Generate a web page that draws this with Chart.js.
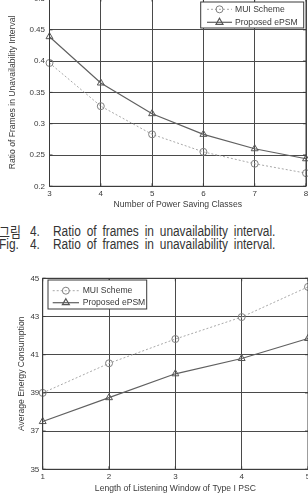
<!DOCTYPE html>
<html><head><meta charset="utf-8">
<script src="https://cdn.jsdelivr.net/npm/chart.js@4.4.1/dist/chart.umd.min.js"></script>
<style>
html,body{margin:0;padding:0;width:308px;height:500px;overflow:hidden;background:#fff;position:relative}
.c{position:absolute;left:0}
#w1{top:-12px;width:320px;height:222px}
#w2{top:262px;width:330px;height:238px}
.cap{position:absolute;left:0;width:308px;height:16px;line-height:16px;font-size:14px;font-family:"Liberation Sans","Noto Sans CJK KR",sans-serif;color:#333;white-space:nowrap}
.cap span{position:absolute;top:0;transform-origin:0 50%;transform:scaleX(0.85)}
.cap .t{word-spacing:3px}
</style></head><body>
<div class="c" id="w1"><canvas id="c1"></canvas></div>
<div class="c" id="w2"><canvas id="c2"></canvas></div>
<div class="cap" style="top:223px"><span style="left:-1px;font-family:'Noto Sans CJK KR'">그림</span><span style="left:30px">4.</span><span class="t" style="left:53px">Ratio of frames in unavailability interval.</span></div>
<div class="cap" style="top:236px"><span style="left:-1px">Fig.</span><span style="left:30px">4.</span><span class="t" style="left:53px">Ratio of frames in unavailability interval.</span></div>
<script>
// ---- data ----
const psClasses = [3, 4, 5, 6, 7, 8];
const muiRatio  = [0.397, 0.328, 0.283, 0.255, 0.236, 0.221];
const epsmRatio = [0.439, 0.365, 0.316, 0.283, 0.260, 0.244];
const ratioTicks = [0.2, 0.25, 0.3, 0.35, 0.4, 0.45, 0.5];
const classTicks = [3, 4, 5, 6, 7, 8];

const windowLen  = [1, 2, 3, 4, 5];
const muiEnergy  = [39.0, 40.55, 41.82, 42.97, 44.55];
const epsmEnergy = [37.5, 38.75, 40.0, 40.8, 41.85];
const energyTicks = [35, 37, 39, 41, 43, 45];
const windowTicks = [1, 2, 3, 4, 5];

const seriesNames = ['MUI Scheme', 'Proposed ePSM'];

const FONT = '"Liberation Sans", Arial, sans-serif';
const TXT = '#3a3a3a';
const FRAME = '#3a3a3a';

function pts(xs, ys){ return xs.map((x,i)=>({x:x, y:ys[i]})); }

const framePlugin = {
  id: 'frame',
  afterDatasetsDraw(chart){
    const {ctx, chartArea:a, scales} = chart;
    ctx.save();
    ctx.strokeStyle = FRAME; ctx.lineWidth = 1; ctx.setLineDash([]);
    ctx.beginPath();
    scales.x.ticks.forEach((t,i)=>{
      const px = scales.x.getPixelForValue(t.value);
      ctx.moveTo(px, a.bottom); ctx.lineTo(px, a.bottom-3);
      ctx.moveTo(px, a.top); ctx.lineTo(px, a.top+3);
    });
    scales.y.ticks.forEach((t,i)=>{
      const py = scales.y.getPixelForValue(t.value);
      ctx.moveTo(a.left, py); ctx.lineTo(a.left+3, py);
      ctx.moveTo(a.right, py); ctx.lineTo(a.right-3, py);
    });
    ctx.stroke();
    ctx.strokeRect(a.left, a.top, a.right-a.left, a.bottom-a.top);
    ctx.restore();
  }
};

const boxLegend = {
  id: 'boxLegend',
  afterDraw(chart, args, o){
    const {ctx, chartArea:a} = chart;
    const x = a.left + o.dx, y = a.top + o.dy;
    ctx.save();
    ctx.fillStyle = '#fff'; ctx.fillRect(x, y, o.w, o.h);
    ctx.strokeStyle = FRAME; ctx.lineWidth = 1; ctx.strokeRect(x, y, o.w, o.h);
    chart.data.datasets.forEach((ds,i)=>{
      const cy = y + o.rows[i];
      ctx.strokeStyle = ds.borderColor; ctx.lineWidth = ds.borderWidth;
      ctx.setLineDash(ds.borderDash || []);
      ctx.beginPath(); ctx.moveTo(x+o.l0, cy); ctx.lineTo(x+o.l1, cy); ctx.stroke();
      ctx.setLineDash([]);
      ctx.strokeStyle = ds.pointBorderColor; ctx.fillStyle = 'rgba(0,0,0,0)';
      Chart.helpers.drawPoint(ctx, {pointStyle: ds.pointStyle, radius: ds.pointRadius, borderWidth: 1, rotation: 0}, x+(o.l0+o.l1)/2, cy);
      ctx.fillStyle = TXT; ctx.font = '8.6px ' + FONT; ctx.textBaseline = 'middle'; ctx.textAlign = 'left';
      ctx.fillText(ds.label, x+o.tx, cy);
    });
    ctx.restore();
  }
};

function makeDatasets(xs, a, b){
  return [
    { label: seriesNames[0], data: pts(xs, a), borderColor: '#a8a8a8', borderWidth: 1, borderDash: [2,2],
      pointStyle: 'circle', pointRadius: 3.5, pointBorderColor: '#808080', pointBackgroundColor: 'rgba(0,0,0,0)', pointBorderWidth: 1, clip: false, tension: 0 },
    { label: seriesNames[1], data: pts(xs, b), borderColor: '#606060', borderWidth: 1.2,
      pointStyle: 'triangle', pointRadius: 4, pointBorderColor: '#555', pointBackgroundColor: 'rgba(0,0,0,0)', pointBorderWidth: 1, clip: false, tension: 0 }
  ];
}

function makeOptions(c){
  return {
    responsive: true, maintainAspectRatio: false, animation: false, devicePixelRatio: 1,
    layout: { padding: c.pad },
    plugins: { legend: {display:false}, tooltip: {enabled:false}, boxLegend: c.legend },
    scales: {
      x: {
        type: 'linear', min: c.xTicks[0], max: c.xTicks[c.xTicks.length-1],
        afterBuildTicks: s => { s.ticks = c.xTicks.map(v=>({value:v})); },
        afterFit: s => { s.height = c.xH; },
        grid: { color: '#4a4a4a', lineWidth: 1, borderDash: [1.5,2.5], drawTicks: false },
        border: { display: false },
        ticks: { padding: c.xPad, color: TXT, font: {family: FONT, size: 8}, maxRotation: 0, autoSkip: false,
                 callback: (v) => String(v) },
        title: { display: true, text: c.xTitle, color: TXT, font: {family: FONT, size: 8.6}, padding: {top: 0, bottom: c.xTitlePad} }
      },
      y: {
        type: 'linear', min: c.yTicks[0], max: c.yTicks[c.yTicks.length-1],
        afterBuildTicks: s => { s.ticks = c.yTicks.map(v=>({value:v})); },
        afterFit: s => { s.width = c.yW; },
        grid: { color: '#4a4a4a', lineWidth: 1, borderDash: [1.5,2.5], drawTicks: false },
        border: { display: false },
        ticks: { padding: c.yPad, color: TXT, font: {family: FONT, size: 8}, autoSkip: false,
                 callback: (v) => String(v) },
        title: { display: true, text: c.yTitle, color: TXT, font: {family: FONT, size: 8.6}, padding: {top: c.yTitlePad, bottom: 0} }
      }
    }
  };
}

new Chart(document.getElementById('c1'), {
  type: 'line',
  data: { datasets: makeDatasets(psClasses, muiRatio, epsmRatio) },
  options: makeOptions({
    pad: {top: 10.5, right: 14, bottom: 0, left: 0},
    xTicks: classTicks, yTicks: ratioTicks,
    xH: 23.7, yW: 49.5, xPad: 2.2, yPad: 4.5, xTitlePad: 0.5, yTitlePad: 7.5,
    xTitle: 'Number of Power Saving Classes',
    yTitle: 'Ratio of Frames in Unavailability Interval',
    legend: {dx: 151.2, dy: 3.5, w: 103, h: 26, rows: [7.3, 20.3], l0: 6.3, l1: 31.3, tx: 34.3}
  }),
  plugins: [framePlugin, boxLegend]
});

new Chart(document.getElementById('c2'), {
  type: 'line',
  data: { datasets: makeDatasets(windowLen, muiEnergy, epsmEnergy) },
  options: makeOptions({
    pad: {top: 16.3, right: 22, bottom: 0, left: 0},
    xTicks: windowTicks, yTicks: energyTicks,
    xH: 30.7, yW: 42.7, xPad: 2.6, yPad: 3.4, xTitlePad: 6.5, yTitlePad: 16.5,
    xTitle: 'Length of Listening Window of Type I PSC',
    yTitle: 'Average Energy Consumption',
    legend: {dx: 5.3, dy: 1.7, w: 98.7, h: 29, rows: [10.7, 22.7], l0: 4.7, l1: 31, tx: 34.7}
  }),
  plugins: [framePlugin, boxLegend]
});
</script>
</body></html>
